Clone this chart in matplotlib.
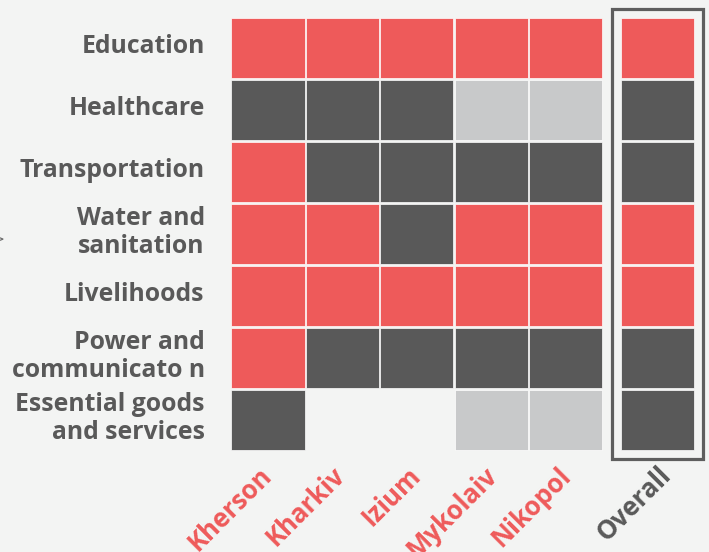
import matplotlib
matplotlib.use("Agg")
import matplotlib.pyplot as plt
from matplotlib.patches import Rectangle
from matplotlib.transforms import ScaledTranslation

# ---- data ----
sectors = ["Education", "Healthcare", "Transportation", "Water and\nsanitation",
           "Livelihoods", "Power and\ncommunicato n", "Essential goods\nand services"]
locations = ["Kherson", "Kharkiv", "Izium", "Mykolaiv", "Nikopol", "Overall"]
# status per sector: R = red, D = dark, L = light, "" = no data
kherson  = ["R", "D", "R", "R", "R", "R", "D"]
kharkiv  = ["R", "D", "D", "R", "R", "D", ""]
izium    = ["R", "D", "D", "D", "R", "D", ""]
mykolaiv = ["R", "L", "D", "R", "R", "D", "L"]
nikopol  = ["R", "L", "D", "R", "R", "D", "L"]
overall  = ["R", "D", "D", "R", "R", "D", "D"]
columns = [kherson, kharkiv, izium, mykolaiv, nikopol, overall]
col_pos = [0, 1, 2, 3, 4, 5.23]

palette = {"R": "#EE5A5A", "D": "#595959", "L": "#C8C9CA"}
label_colors = ["#EE5A5A"] * 5 + ["#595959"]
label_dx = [9, 8, 9, 11, 11, 19]  # px offset of the rotated labels
BG = "#F3F4F3"
TXT = "#595959"
FONT = "Open Sans"

fig = plt.figure(figsize=(7.09, 5.52), dpi=100, facecolor=BG)
W, H = 709, 552
left_px, right_px = 230.75, 703.8
top_px, bot_px = 16.7, 450.7
ax = fig.add_axes([left_px / W, 1 - bot_px / H, (right_px - left_px) / W, (bot_px - top_px) / H])
ax.set_facecolor(BG)
ax.set_xlim(-0.5, 5.85)
ax.set_ylim(6.5, -0.5)
for s in ax.spines.values():
    s.set_visible(False)
ax.set_xticks([])
ax.set_yticks([])

cw, chh = 0.98, 0.968
for x, col in zip(col_pos, columns):
    for r, st in enumerate(col):
        if st:
            ax.add_patch(Rectangle((x - cw / 2, r - chh / 2), cw, chh,
                                   facecolor=palette[st], edgecolor="white", lw=0.5))

# overall box
ax.add_patch(Rectangle((4.617, -0.624), 5.839 - 4.617, 6.634 + 0.624,
                       facecolor="none", edgecolor="#5E5E5E", lw=2.3, clip_on=False))

ytrans = ax.get_yaxis_transform() + ScaledTranslation(-26 / 100, 1 / 100, fig.dpi_scale_trans)
for r, name in enumerate(sectors):
    ax.text(0, r, name, transform=ytrans, ha="right", va="center", ma="right",
            fontfamily=FONT, fontweight="bold", fontsize=17.8, color=TXT,
            linespacing=1.13)

for x, name, c, dx in zip(col_pos, locations, label_colors, label_dx):
    trans = ax.get_xaxis_transform() + ScaledTranslation(dx / 100, -11 / 100, fig.dpi_scale_trans)
    ax.text(x, 0, name, transform=trans, rotation=45, ha="right", va="top",
            fontfamily=FONT, fontweight="bold", fontsize=18.5, color=c)

fig.text(6 / W, 1 - 241 / H, ">", ha="right", va="center", fontsize=20,
         color="#6A6A6A", fontfamily="DejaVu Sans", fontweight="light")

fig.savefig("out.png", dpi=100, facecolor=BG)
